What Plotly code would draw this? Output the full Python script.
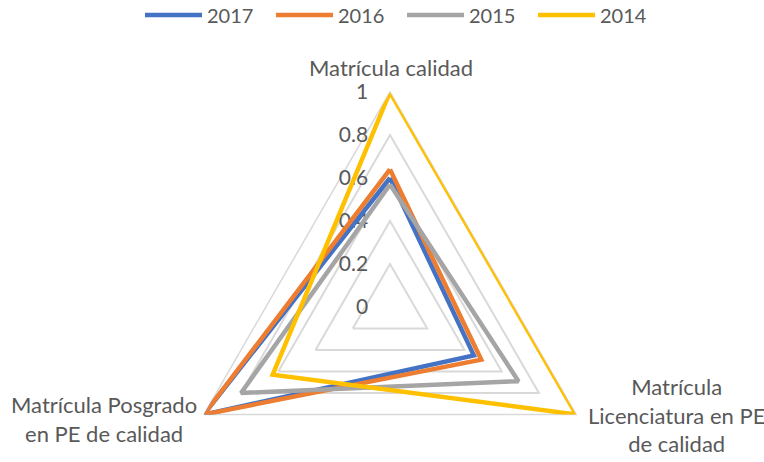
import plotly.graph_objects as go

# ---- data ----
categories = ["Matrícula calidad",
              "Matrícula Licenciatura en PE de calidad",
              "Matrícula Posgrado en PE de calidad"]
category_labels = ["Matrícula calidad",
                   "Matrícula<br>Licenciatura en PE<br>de calidad",
                   "Matrícula Posgrado<br>en PE de calidad"]
series_names = ["2017", "2016", "2015", "2014"]
values_2017 = [0.60, 0.45, 1.00]
values_2016 = [0.64, 0.49, 1.00]
values_2015 = [0.57, 0.69, 0.80]
values_2014 = [1.00, 1.00, 0.63]
radial_ticks = [0, 0.2, 0.4, 0.6, 0.8, 1]
radial_ticktext = ["0", "0.2", "0.4", "0.6", "0.8", "1"]

colors = ["#4472C4", "#ED7D31", "#A5A5A5", "#FFC000"]
all_values = [values_2017, values_2016, values_2015, values_2014]

W, H = 764, 540  # paper taller than the 462 window so the radar fits like the original
FONT = "Lato"
TXT = "#595959"

def px_x(x):
    return x / W

def px_y(y):
    return (H - y) / H

fig = go.Figure()
for name, vals, col in zip(series_names, all_values, colors):
    fig.add_trace(go.Scatterpolar(
        r=vals + vals[:1],
        theta=categories + categories[:1],
        mode="lines",
        name=name,
        line=dict(color=col, width=4.5),
        cliponaxis=False,
    ))

cx, cy, R = 390, 307, 215
fig.update_layout(
    width=W, height=H, autosize=False,
    margin=dict(l=0, r=0, t=0, b=0, autoexpand=False),
    paper_bgcolor="white", plot_bgcolor="white",
    font=dict(family=FONT, size=20, color=TXT),
    showlegend=True,
    legend=dict(orientation="h", x=px_x(140), xanchor="left",
                y=px_y(15), yanchor="middle",
                font=dict(family=FONT, size=20, color=TXT),
                entrywidth=59, entrywidthmode="pixels", itemwidth=57,
                bgcolor="rgba(0,0,0,0)"),
    polar=dict(
        domain=dict(x=[px_x(cx - R), px_x(cx + R)], y=[px_y(cy + R), px_y(cy - R)]),
        gridshape="linear",
        bgcolor="white",
        radialaxis=dict(range=[0, 1], tickvals=radial_ticks, ticktext=radial_ticktext,
                        angle=90, side="counterclockwise", showline=False,
                        tickangle=90, layer="below traces",
                        ticks="outside", ticklen=14, tickcolor="rgba(0,0,0,0)",
                        gridcolor="#D9D9D9", gridwidth=1.5,
                        tickfont=dict(family=FONT, size=21, color=TXT)),
        angularaxis=dict(rotation=90, direction="clockwise", layer="below traces",
                         showline=True, linecolor="#D9D9D9", linewidth=1.5,
                         showgrid=False, ticks="", showticklabels=False),
    ),
)

label_pos = [(391, 68), (676, 415), (104, 419)]
for lab, (x, y) in zip(category_labels, label_pos):
    fig.add_annotation(text=lab, x=px_x(x), y=px_y(y), xref="paper", yref="paper",
                       xanchor="center", yanchor="middle", showarrow=False,
                       align="center", font=dict(family=FONT, size=22, color=TXT))

fig.write_html("out.html", config={"displayModeBar": False},
               post_script="document.documentElement.style.overflow='hidden';"
                           "document.body.style.overflow='hidden';document.body.style.margin='0';")
